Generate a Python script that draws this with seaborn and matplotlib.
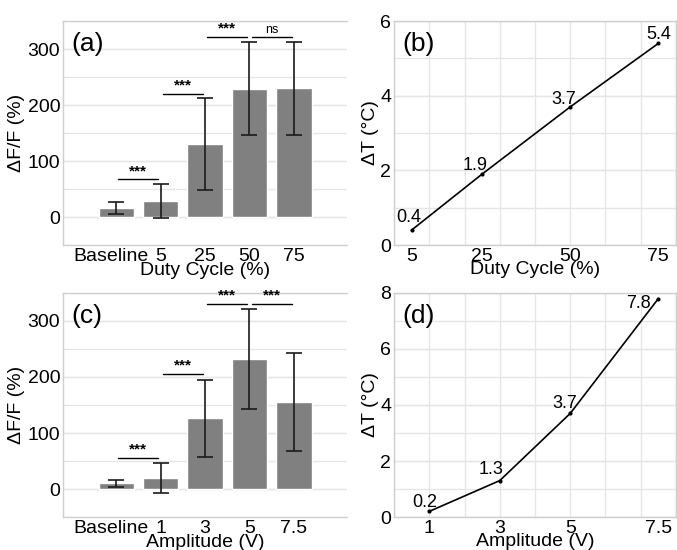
import numpy as np
import pandas as pd
import seaborn as sns
from matplotlib import pyplot as plt
from matplotlib.ticker import MultipleLocator
from matplotlib.transforms import ScaledTranslation

# bar panels: mean dF/F and its error
duty_cats = ["Baseline", "5", "25", "50", "75"]
duty_mean = [16, 29, 130, 229, 230]
duty_err = [10, 30, 82, 83, 83]
duty_sig_y = [67, 220, 322, 322]
duty_sig_txt = ["***", "***", "***", "ns"]

amp_cats = ["Baseline", "1", "3", "5", "7.5"]
amp_mean = [10, 19, 126, 232, 155]
amp_err = [6, 27, 69, 90, 88]
amp_sig_y = [56, 206, 331, 331]
amp_sig_txt = ["***", "***", "***", "***"]

# temperature panels
duty_x = [5, 25, 50, 75]
duty_dT = [0.4, 1.9, 3.7, 5.4]
amp_x = [1, 3, 5, 7.5]
amp_dT = [0.2, 1.3, 3.7, 7.8]

sns.set_style("white")
plt.rcParams['font.family'] = ['Liberation Sans', 'DejaVu Sans']
plt.rcParams.update({'text.color': 'black', 'axes.labelcolor': 'black',
                     'xtick.color': 'black', 'ytick.color': 'black'})

GRID = '#e6e6e6'
SPINE = '#cfcfcf'

fig = plt.figure(figsize=(6.77, 5.5), dpi=100)
W, H = 677, 550


def box(x0, y0, x1, y1):
    return [x0 / W, 1 - y1 / H, (x1 - x0) / W, (y1 - y0) / H]


def style(ax):
    for s in ax.spines.values():
        s.set_color(SPINE)
        s.set_linewidth(1.0)
    ax.tick_params(which='both', length=0, labelsize=14, pad=2)


def bar_panel(ax, cats, mean, err, sig_y, sig_txt, xlabel, tag):
    df = pd.DataFrame({"cat": cats, "val": mean})
    sns.barplot(data=df, x="cat", y="val", color='#808080', saturation=1,
                width=0.8, errorbar=None, ax=ax, zorder=2)
    ax.errorbar(range(len(cats)), mean, yerr=err, fmt='none', ecolor='#1a1a1a',
                elinewidth=1.2, capsize=6, capthick=1.2, zorder=3)
    for i, (y, t) in enumerate(zip(sig_y, sig_txt)):
        ax.plot([i + 0.05, i + 0.95], [y, y], color='k', lw=1.0, zorder=4)
        ax.text(i + 0.5, y + 2, t, ha='center', va='bottom',
                fontsize=11 if t == "***" else 9, fontweight='bold' if t == "***" else 'normal')
    ax.set_xlim(-1.2, 5.2)
    ax.set_ylim(-50, 350)
    ax.set_yticks([0, 100, 200, 300])
    ax.yaxis.set_minor_locator(MultipleLocator(50))
    ax.yaxis.remove_overlapping_locs = False
    ax.grid(axis='y', which='both', color=GRID, lw=1.0, zorder=0)
    ax.set_axisbelow(True)
    ax.set_xlabel(xlabel, fontsize=14, labelpad=-2)
    ax.set_ylabel("ΔF/F (%)", fontsize=14, labelpad=2)
    ax.text(0.03, 0.95, tag, transform=ax.transAxes, fontsize=19, va='top', ha='left')
    style(ax)
    ax.spines['right'].set_visible(False)
    # nudge "Baseline" left a bit, like the original
    lab = ax.get_xticklabels()[0]
    lab.set_transform(lab.get_transform() + ScaledTranslation(-4 / 72, 0, fig.dpi_scale_trans))


def line_panel(ax, x, y, xlim, ylim, yt, xminor, xlabel, tag, offsets):
    sns.lineplot(x=x, y=y, ax=ax, color='k', lw=1.2, marker='o', markersize=3,
                 markeredgewidth=0)
    for xi, yi, off in zip(x, y, offsets):
        ax.annotate(f"{yi:.1f}", (xi, yi), xytext=off, textcoords='offset points',
                    ha='center', va='baseline', fontsize=13)
    ax.set_xlim(*xlim)
    ax.set_ylim(*ylim)
    ax.set_xticks(x)
    ax.set_xticklabels([f"{v:g}" for v in x])
    ax.set_yticks(yt)
    ax.xaxis.set_minor_locator(MultipleLocator(xminor))
    ax.yaxis.set_minor_locator(MultipleLocator(1))
    ax.xaxis.remove_overlapping_locs = False
    ax.yaxis.remove_overlapping_locs = False
    ax.grid(axis='x', which='minor', color=GRID, lw=1.0)
    ax.grid(axis='y', which='both', color=GRID, lw=1.0)
    ax.set_axisbelow(True)
    ax.set_xlabel(xlabel, fontsize=14, labelpad=-3)
    ax.set_ylabel("ΔT (°C)", fontsize=14, labelpad=1)
    ax.text(0.03, 0.95, tag, transform=ax.transAxes, fontsize=19, va='top', ha='left')
    style(ax)


ax_a = fig.add_axes(box(63, 21, 347, 245))
ax_b = fig.add_axes(box(394, 21, 676, 245))
ax_c = fig.add_axes(box(63, 293, 347, 517))
ax_d = fig.add_axes(box(394, 293, 676, 517))

bar_panel(ax_a, duty_cats, duty_mean, duty_err, duty_sig_y, duty_sig_txt, "Duty Cycle (%)", "(a)")
bar_panel(ax_c, amp_cats, amp_mean, amp_err, amp_sig_y, amp_sig_txt, "Amplitude (V)", "(c)")
line_panel(ax_b, duty_x, duty_dT, (0, 80), (0, 6), [0, 2, 4, 6], 10, "Duty Cycle (%)", "(b)",
           [(-2, 6), (-5, 3), (-5, 2), (0, 3)])
line_panel(ax_d, amp_x, amp_dT, (0, 8), (0, 8), [0, 2, 4, 6, 8], 1, "Amplitude (V)", "(d)",
           [(-3, 3), (-6, 5), (-4, 4), (-14, -6.5)])

fig.savefig("out.png", dpi=100, facecolor='white')
